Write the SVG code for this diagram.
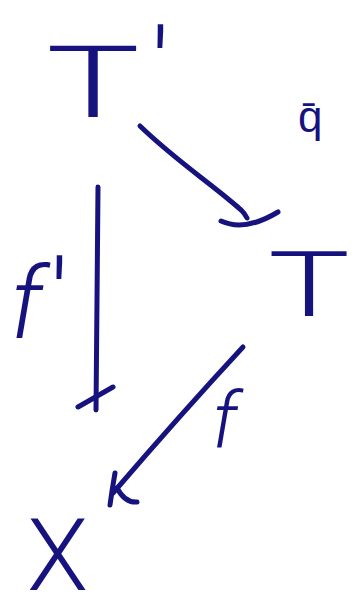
<svg xmlns="http://www.w3.org/2000/svg" width="356" height="616" viewBox="0 0 356 616">
<style>
.lbl{font-family:Roboto,"Liberation Sans",Arial,sans-serif;font-weight:300;fill:#16137f}
.edge{fill:none;stroke:#16137f;stroke-width:5;stroke-linecap:round;stroke-linejoin:round}
</style>
<rect width="356" height="616" fill="#ffffff"/>
<g id="node-Tprime">
<text class="lbl" x="46" y="117" font-size="100" textLength="94" lengthAdjust="spacingAndGlyphs">T</text>
<text class="lbl" x="151" y="106" font-size="110">'</text>
</g>
<g id="node-T">
<text class="lbl" x="268" y="316" font-size="90" textLength="82" lengthAdjust="spacingAndGlyphs">T</text>
</g>
<g id="node-X">
<text class="lbl" x="27" y="590" font-size="100">X</text>
</g>
<g id="connectors">
<g id="edge-q">
<path class="edge" d="M140,126 C170,155 200,176 222,194 S244,212 247,218"/>
<path class="edge" d="M221,221 Q245,232 278,212" stroke-width="6"/>
<text class="lbl" x="298" y="132" font-size="44">q̄</text>
</g>
<g id="edge-fprime">
<path class="edge" d="M98,187 L97,300 L96,410"/>
<path class="edge" d="M78,407 L113,387"/>
<text class="lbl" x="10" y="338" font-size="100" font-style="italic">f</text>
<text class="lbl" x="50" y="337" font-size="110">'</text>
</g>
<g id="edge-f">
<path class="edge" d="M243,347 Q180,415 113,493"/>
<path class="edge" d="M115,473 Q112,490 110,505 M117,488 Q125,503 137,502"/>
<text class="lbl" x="212" y="447" font-size="78" font-style="italic">f</text>
</g>
</g>
</svg>
